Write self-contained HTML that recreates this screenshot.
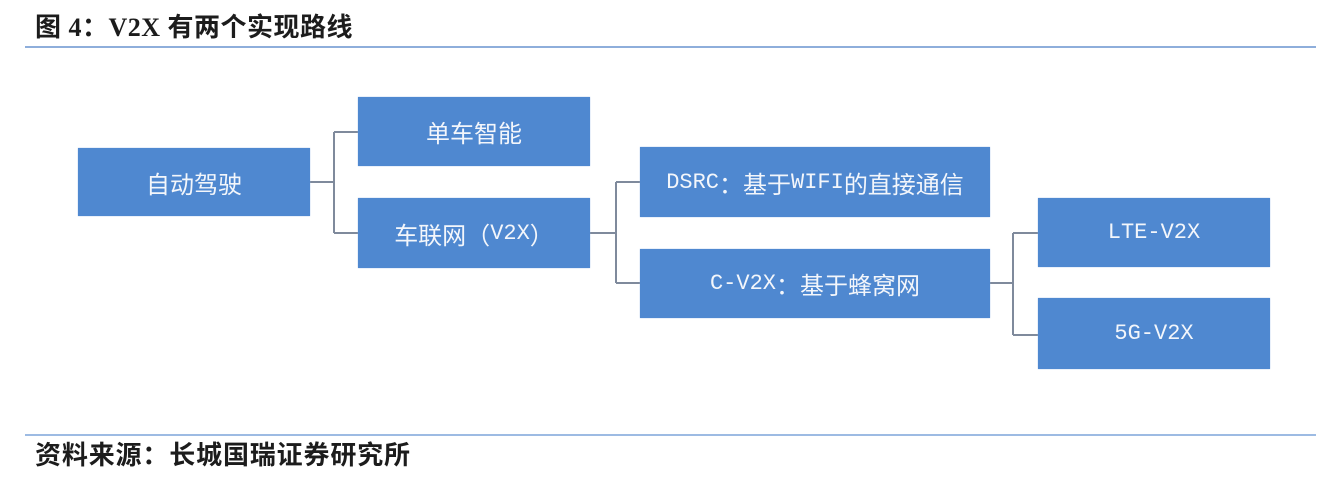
<!DOCTYPE html>
<html>
<head>
<meta charset="utf-8">
<style>
html,body{margin:0;padding:0;background:#fff;}
body{width:1328px;height:482px;position:relative;overflow:hidden;}
.t{position:absolute;white-space:nowrap;color:#1c1c1c;font-weight:bold;font-size:26px;line-height:28px;letter-spacing:0.5px;font-family:"Liberation Serif","Noto Sans CJK SC",serif;}
.f{position:absolute;white-space:nowrap;color:#1c1c1c;font-weight:bold;font-size:26px;line-height:28px;letter-spacing:0.85px;font-family:"Liberation Sans","Noto Sans CJK SC",sans-serif;}
.rule{position:absolute;left:25px;width:1291px;height:2px;}
.b{position:absolute;background:#4f88d0;box-shadow:0 0 1px #8fb3e3;display:flex;align-items:center;justify-content:center;color:#f3f6fb;font-size:24px;font-family:"Noto Sans CJK SC","WenQuanYi Zen Hei",sans-serif;white-space:nowrap;}
.l{font-family:"Liberation Mono",monospace;font-size:22px;}
svg{position:absolute;left:0;top:0;}
</style>
</head>
<body>
<div class="t" style="left:35px;top:14px;">图 4：V2X 有两个实现路线</div>
<div class="rule" style="top:46px;background:#8eaedb;"></div>

<svg width="1328" height="482">
  <g stroke="#7f8a9c" stroke-width="2" fill="none">
    <path d="M310 182 H334 M334 132 V233 M334 132 H358 M334 233 H358"/>
    <path d="M590 233 H616 M616 182 V283 M616 182 H640 M616 283 H640"/>
    <path d="M990 283 H1013 M1013 233 V335 M1013 233 H1038 M1013 335 H1038"/>
  </g>
</svg>

<div class="b" style="left:78px;top:148px;width:232px;height:68px;">自动驾驶</div>
<div class="b" style="left:358px;top:97px;width:232px;height:69px;">单车智能</div>
<div class="b" style="left:358px;top:198px;width:232px;height:70px;">车联网（<span class="l">V2X</span>）</div>
<div class="b" style="left:640px;top:147px;width:350px;height:70px;"><span class="l">DSRC</span>：基于<span class="l">WIFI</span>的直接通信</div>
<div class="b" style="left:640px;top:249px;width:350px;height:69px;"><span class="l">C-V2X</span>：基于蜂窝网</div>
<div class="b" style="left:1038px;top:198px;width:232px;height:69px;"><span class="l">LTE-V2X</span></div>
<div class="b" style="left:1038px;top:298px;width:232px;height:71px;"><span class="l">5G-V2X</span></div>

<div class="rule" style="top:434px;background:#9dbbe3;"></div>
<div class="f" style="left:35px;top:441px;">资料来源：长城国瑞证券研究所</div>
</body>
</html>
